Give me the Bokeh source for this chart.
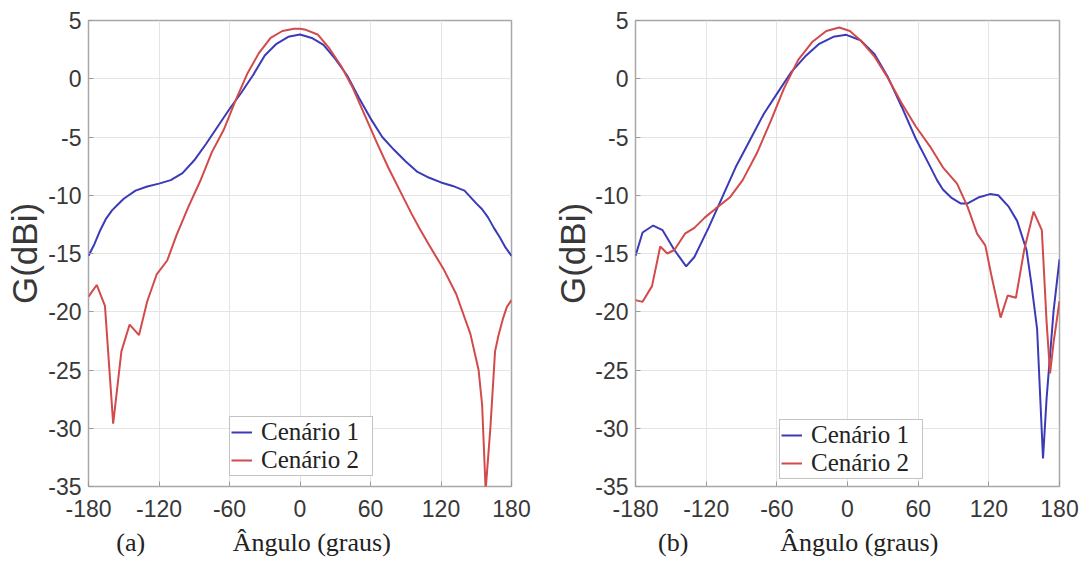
from bokeh.plotting import figure
from bokeh.layouts import row
from bokeh.models import Legend, LegendItem, FixedTicker, Range1d, LinearAxis
from bokeh.embed import file_html
from bokeh.resources import INLINE

# ---------------- data ----------------
x_ticks = [-180, -120, -60, 0, 60, 120, 180]
x_tick_labels = ["-180", "-120", "-60", "0", "60", "120", "180"]
y_ticks = [5, 0, -5, -10, -15, -20, -25, -30, -35]
y_tick_labels = ["5", "0", "-5", "-10", "-15", "-20", "-25", "-30", "-35"]
series_names = ["Cenário 1", "Cenário 2"]
panel_tags = ["(a)", "(b)"]
x_title = "Ângulo (graus)"
y_title = "G(dBi)"

# panel (a), Cenário 1
ang_a1 = [-180, -175, -170, -165, -160, -155, -150, -140, -130, -120, -110, -100, -90, -80,
          -70, -60, -50, -40, -30, -20, -10, 0, 10, 20, 30, 40, 50, 60, 70, 80, 90, 100,
          110, 120, 130, 140, 150, 155, 160, 165, 170, 175, 180]
gain_a1 = [-15.2, -14.2, -13.0, -12.0, -11.3, -10.8, -10.3, -9.6, -9.25, -9.0, -8.7, -8.1, -7.0, -5.6,
           -4.1, -2.6, -1.2, 0.3, 2.0, 3.0, 3.6, 3.8, 3.5, 2.9, 1.7, 0.3, -1.6, -3.4, -5.0, -6.1, -7.1, -8.0,
           -8.5, -8.9, -9.2, -9.6, -10.7, -11.2, -11.9, -12.8, -13.6, -14.5, -15.2]

# panel (a), Cenário 2
ang_a2 = [-180, -173, -166, -159, -152, -145, -137, -130, -122, -113, -105, -95, -85, -75,
          -65, -55, -45, -35, -25, -15, -5, 0, 5, 15, 25, 35, 45, 55, 65, 75, 85, 95,
          102, 110, 122, 133, 145, 152, 155, 158, 162, 166, 169, 173, 176, 180]
gain_a2 = [-18.7, -17.7, -19.5, -29.6, -23.4, -21.1, -22.0, -19.1, -16.8, -15.6, -13.4, -11.0, -8.8, -6.3,
           -4.4, -1.9, 0.4, 2.2, 3.5, 4.1, 4.3, 4.3, 4.2, 3.8, 2.6, 1.1, -0.8, -3.1, -5.4, -7.6, -9.6, -11.6,
           -12.9, -14.3, -16.3, -18.5, -21.9, -25.0, -28.0, -35.3, -30.0, -23.4, -22.0, -20.5, -19.6, -19.0]

# panel (b), Cenário 1
ang_b1 = [-180, -174, -165, -157, -147, -137, -130, -118, -106, -95, -83, -71, -59, -48, -36,
          -24, -12, -1, 11, 23, 34, 46, 58, 70, 76, 81, 88, 96, 102, 111, 121, 128, 137, 144,
          152, 156, 161, 166, 169, 175, 180]
gain_b1 = [-15.2, -13.2, -12.6, -13.0, -14.7, -16.1, -15.3, -12.8, -10.1, -7.6, -5.3, -3.0, -1.15, 0.54, 1.9,
           3.0, 3.6, 3.77, 3.3, 2.1, 0.2, -2.4, -5.15, -7.5, -8.7, -9.5, -10.2, -10.7, -10.7, -10.2, -9.9,
           -10.0, -11.0, -12.2, -14.7, -17.5, -21.5, -32.6, -27.5, -19.9, -15.5]

# panel (b), Cenário 2
ang_b2 = [-180, -174, -166, -159, -153, -147, -138, -130, -121, -112, -100, -89, -77, -65, -54,
          -42, -30, -18, -7, 2, 11, 23, 34, 46, 58, 70, 81, 93, 102, 110, 117, 122, 130, 136,
          143, 150, 158, 165, 169, 172, 175, 180]
gain_b2 = [-19.0, -19.15, -17.8, -14.4, -15.0, -14.7, -13.3, -12.8, -11.9, -11.15, -10.2, -8.7, -6.4, -3.6, -0.85,
           1.6, 3.15, 4.1, 4.4, 4.1, 3.3, 1.9, 0.1, -2.1, -4.1, -5.8, -7.6, -9.0, -11.0, -13.3, -14.3,
           -16.8, -20.5, -18.6, -18.8, -14.7, -11.4, -13.0, -20.8, -25.3, -22.6, -19.1]

BLUE = "#3b3bb8"
RED = "#d24a4a"
SANS = "Liberation Sans"
SERIF = "Liberation Serif"


def make_panel(a1, g1, a2, g2, tag, width, bl, br, bt, bb, ylab_standoff,
               tag_x, xl_x, leg_loc):
    p = figure(width=width, height=561, x_range=Range1d(-180, 180), y_range=Range1d(-35, 5),
               output_backend="svg", toolbar_location=None,
               min_border_left=bl, min_border_right=br, min_border_top=bt, min_border_bottom=bb)
    p.background_fill_color = "white"
    p.border_fill_color = "white"
    p.outline_line_color = "#a8a8a8"
    p.outline_line_width = 1.5

    p.xaxis.ticker = FixedTicker(ticks=x_ticks)
    p.yaxis.ticker = FixedTicker(ticks=y_ticks)
    p.xaxis.major_label_overrides = dict(zip(x_ticks, x_tick_labels))
    p.yaxis.major_label_overrides = dict(zip(y_ticks, y_tick_labels))
    for ax in (p.xaxis, p.yaxis):
        ax.major_label_text_font = SANS
        ax.major_label_text_font_size = "23px"
        ax.major_label_text_color = "#383838"
        ax.axis_line_color = None
        ax.major_tick_in = 5
        ax.major_tick_out = 0
        ax.major_tick_line_color = "#9a9a9a"
        ax.minor_tick_line_color = None
    p.xaxis.major_label_standoff = 13
    p.yaxis.major_label_standoff = 7
    p.yaxis.axis_label = y_title
    p.yaxis.axis_label_text_font = SANS
    p.yaxis.axis_label_text_font_size = "35px"
    p.yaxis.axis_label_text_font_style = "normal"
    p.yaxis.axis_label_text_color = "#383838"
    p.yaxis.axis_label_standoff = ylab_standoff

    # second, tick-less axis carrying the panel tag and the x title
    lab_axis = LinearAxis(ticker=FixedTicker(ticks=[tag_x, xl_x]),
                          major_label_overrides={tag_x: tag, xl_x: x_title})
    lab_axis.major_label_text_font = SERIF
    lab_axis.major_label_text_font_size = "26px"
    lab_axis.major_label_text_color = "#222222"
    lab_axis.major_label_standoff = 2
    lab_axis.major_tick_line_color = None
    lab_axis.minor_tick_line_color = None
    lab_axis.axis_line_color = None
    p.add_layout(lab_axis, "below")

    p.xgrid.grid_line_color = "#e4e4e4"
    p.ygrid.grid_line_color = "#e4e4e4"

    r1 = p.line(a1, g1, line_color=BLUE, line_width=2)
    r2 = p.line(a2, g2, line_color=RED, line_width=2)

    leg = Legend(items=[LegendItem(label=series_names[0], renderers=[r1]),
                        LegendItem(label=series_names[1], renderers=[r2])],
                 location=leg_loc)
    leg.label_text_font = SERIF
    leg.label_text_font_size = "25px"
    leg.label_text_color = "#222222"
    leg.glyph_width = 21
    leg.label_standoff = 9
    leg.label_width = 110
    leg.padding = 1
    leg.spacing = 0
    leg.margin = 0
    leg.label_height = 24
    leg.border_line_color = "#888888"
    leg.border_line_width = 1
    leg.background_fill_alpha = 1
    p.add_layout(leg)
    return p


pa = make_panel(ang_a1, gain_a1, ang_a2, gain_a2, panel_tags[0], 548, 88, 37, 19, 71, 1,
                -144, 10, (141, 10))
pb = make_panel(ang_b1, gain_b1, ang_b2, gain_b2, panel_tags[1], 537, 87, 26, 20, 75, 0,
                -148, 10, (144, 7))

layout = row(pa, pb)
open("out.html", "w").write(file_html(layout, INLINE))
